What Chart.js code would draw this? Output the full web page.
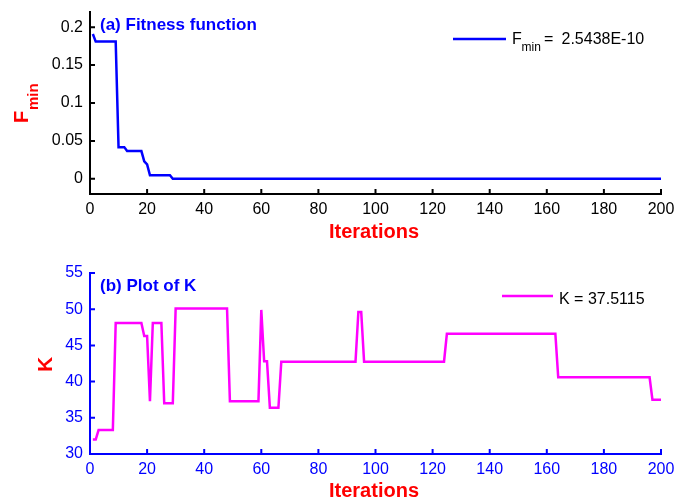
<!DOCTYPE html>
<html><head><meta charset="utf-8">
<script src="https://cdn.jsdelivr.net/npm/chart.js@4.4.1/dist/chart.umd.min.js"></script>
<style>
html,body{margin:0;padding:0;background:#fff;width:676px;height:502px;overflow:hidden}
canvas{position:absolute;left:0}
#c1{top:0}#c2{top:250px}
</style></head><body>
<canvas id="c1" width="676" height="250"></canvas>
<canvas id="c2" width="676" height="252"></canvas>
<script>
// ---- data ----
const fIter   = [1, 2, 9, 10, 12, 13, 18, 19, 20, 21, 28, 29, 200];
const fValues = [0.191, 0.181, 0.181, 0.0418, 0.0418, 0.0366, 0.0366, 0.023, 0.019, 0.0047, 0.0047, 0, 0];
const kIter   = [1,2,3,8,9,18,19,20,21,22,25,26,29,30,48,49,59,60,61,62,63,66,67,93,94,95,96,124,125,163,164,196,197,200];
const kValues = [32.0,32.0,33.3,33.3,48.1,48.1,46.3,46.3,37.3,48.1,48.1,37.0,37.0,50.1,50.1,37.3,37.3,49.9,42.8,42.8,36.4,36.4,42.75,42.75,49.6,49.6,42.75,42.75,46.6,46.6,40.6,40.6,37.5,37.5];
const xTicks = [0,20,40,60,80,100,120,140,160,180,200];
const fTicks = [0,0.05,0.1,0.15,0.2];
const fTickLabels = ['0','0.05','0.1','0.15','0.2'];
const kTicks = [30,35,40,45,50,55];
const kTickLabels = ['30','35','40','45','50','55'];
const fLegendValue = '2.5438E-10';
const kLegendText = 'K = 37.5115';

const FONT = '"Liberation Sans", Arial, Helvetica, sans-serif';
Chart.defaults.font.family = FONT;

function pts(xs, ys){ return xs.map((x,i)=>({x:x, y:ys[i]})); }

function tickMarks(axisColor){
  return {
    id:'tickMarks',
    afterDraw(chart){
      const ctx=chart.ctx, sx=chart.scales.x, sy=chart.scales.y, a=chart.chartArea;
      ctx.save();
      ctx.strokeStyle=axisColor; ctx.lineWidth=2;
      ctx.beginPath();
      sx.ticks.forEach(t=>{const px=sx.getPixelForValue(t.value); ctx.moveTo(px,a.bottom); ctx.lineTo(px,a.bottom-5);});
      sy.ticks.forEach(t=>{const py=sy.getPixelForValue(t.value); ctx.moveTo(a.left,py); ctx.lineTo(a.left+5,py);});
      ctx.stroke();
      ctx.restore();
    }
  };
}

function makeOptions(c){
  return {
    responsive:false, animation:false, devicePixelRatio:1,
    layout:{padding:{top:c.padTop,right:15,left:0,bottom:0}},
    plugins:{legend:{display:false}, tooltip:{enabled:false}},
    elements:{point:{radius:0}, line:{tension:0, borderWidth:2.5}},
    scales:{
      x:{type:'linear', min:0, max:200,
        afterBuildTicks:s=>{s.ticks=xTicks.map(v=>({value:v}));},
        afterFit:s=>{s.height=c.xHeight; s.paddingLeft=0; s.paddingRight=0;},
        grid:{display:true, drawOnChartArea:false, drawTicks:false},
        border:{display:true, color:c.axisColor, width:2},
        ticks:{color:c.axisColor, font:{size:16}, padding:6, maxRotation:0, autoSkip:false, callback:(v,i)=>String(xTicks[i])}
      },
      y:{type:'linear', min:c.yMin, max:c.yMax,
        afterBuildTicks:s=>{s.ticks=c.yTicks.map(v=>({value:v}));},
        afterFit:s=>{s.width=90; s.paddingTop=0; s.paddingBottom=0;},
        grid:{display:true, drawOnChartArea:false, drawTicks:false},
        border:{display:true, color:c.axisColor, width:2},
        ticks:{color:c.axisColor, font:{size:16}, padding:7, autoSkip:false, callback:(v,i)=>c.yLabels[i]}
      }
    }
  };
}

// ---- top chart ----
new Chart(document.getElementById('c1'), {
  type:'line',
  data:{datasets:[{data:pts(fIter,fValues), borderColor:'#0000ff', fill:false}]},
  options:makeOptions({padTop:12, xHeight:56, axisColor:'#000000', yMin:-0.02, yMax:0.22, yTicks:fTicks, yLabels:fTickLabels}),
  plugins:[tickMarks('#000000'), {
    id:'extrasTop',
    afterDraw(chart){
      const ctx=chart.ctx;
      ctx.save();
      ctx.textBaseline='alphabetic';
      ctx.fillStyle='#0000ff'; ctx.font='bold 17px '+FONT; ctx.textAlign='left';
      ctx.fillText('(a) Fitness function', 100, 30);
      ctx.fillStyle='#ff0000'; ctx.font='bold 20px '+FONT; ctx.textAlign='center';
      ctx.fillText('Iterations', 374, 238);
      // y title F_min
      ctx.save();
      ctx.translate(28, 123); ctx.rotate(-Math.PI/2);
      ctx.textAlign='left';
      ctx.font='bold 20px '+FONT; ctx.fillText('F', 0, 0);
      ctx.font='bold 15px '+FONT; ctx.fillText('min', 13, 10);
      ctx.restore();
      // legend
      ctx.strokeStyle='#0000ff'; ctx.lineWidth=2.5;
      ctx.beginPath(); ctx.moveTo(453,39); ctx.lineTo(506,39); ctx.stroke();
      ctx.fillStyle='#000000'; ctx.textAlign='left';
      ctx.font='16px '+FONT; ctx.fillText('F', 512, 44);
      ctx.font='12px '+FONT; ctx.fillText('min', 521.5, 51);
      ctx.font='16px '+FONT; ctx.fillText('=', 544, 44);
      ctx.fillText(fLegendValue, 561.5, 44);
      ctx.restore();
    }
  }]
});

// ---- bottom chart ----
new Chart(document.getElementById('c2'), {
  type:'line',
  data:{datasets:[{data:pts(kIter,kValues), borderColor:'#ff00ff', fill:false}]},
  options:makeOptions({padTop:23, xHeight:48, axisColor:'#0000ff', yMin:30, yMax:55, yTicks:kTicks, yLabels:kTickLabels}),
  plugins:[tickMarks('#0000ff'), {
    id:'extrasBottom',
    afterDraw(chart){
      const ctx=chart.ctx;
      ctx.save();
      ctx.textBaseline='alphabetic';
      ctx.fillStyle='#0000ff'; ctx.font='bold 17px '+FONT; ctx.textAlign='left';
      ctx.fillText('(b) Plot of K', 100, 40.5);
      ctx.fillStyle='#ff0000'; ctx.font='bold 20px '+FONT; ctx.textAlign='center';
      ctx.fillText('Iterations', 374, 247);
      ctx.save();
      ctx.translate(52, 122); ctx.rotate(-Math.PI/2);
      ctx.textAlign='left'; ctx.font='bold 21px '+FONT; ctx.fillText('K', 0, 0);
      ctx.restore();
      ctx.strokeStyle='#ff00ff'; ctx.lineWidth=2.5;
      ctx.beginPath(); ctx.moveTo(502,46); ctx.lineTo(553,46); ctx.stroke();
      ctx.fillStyle='#000000'; ctx.textAlign='left'; ctx.font='16px '+FONT;
      ctx.fillText(kLegendText, 559, 54);
      ctx.restore();
    }
  }]
});
</script>
</body></html>
